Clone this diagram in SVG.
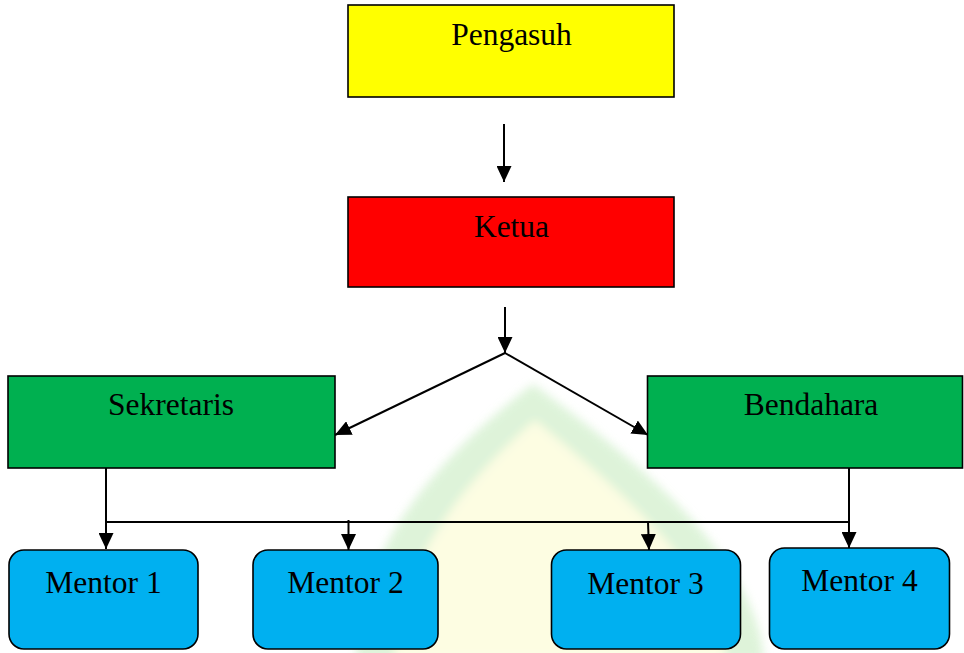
<svg xmlns="http://www.w3.org/2000/svg" width="964" height="653" viewBox="0 0 964 653">
  <defs>
    <marker id="ah" markerUnits="userSpaceOnUse" markerWidth="17" markerHeight="15" refX="16" refY="7.5" orient="auto">
      <path d="M0,0 L16,7.5 L0,15 z" fill="#000"/>
    </marker>
    <filter id="soft" x="-10%" y="-10%" width="120%" height="120%">
      <feGaussianBlur stdDeviation="5"/>
    </filter>
    <style>
      .box { stroke: #000; stroke-width: 1.6; }
      .lbl { font-family: "Liberation Serif", "Times New Roman", serif; font-size: 31.5px; fill: #000; text-anchor: middle; }
      .con { stroke: #000; stroke-width: 2; fill: none; }
      .arr { marker-end: url(#ah); }
    </style>
  </defs>
  <rect width="964" height="653" fill="#ffffff"/>
  <g id="watermark" filter="url(#soft)" opacity="0.8">
    <path d="M356 660 C 358 560, 420 470, 533 384 C 650 470, 756 560, 764 660 Z" fill="#d6f1d0"/>
    <path d="M394 660 C 398 572, 452 492, 535 420 C 622 492, 722 576, 726 660 Z" fill="#fdfddc"/>
  </g>
  <g id="connectors">
    <line class="con arr" x1="504" y1="124" x2="504" y2="182"/>
    <line class="con arr" x1="505" y1="307" x2="505" y2="353"/>
    <line class="con arr" x1="505" y1="353" x2="335" y2="435"/>
    <line class="con arr" x1="505" y1="353" x2="648" y2="435"/>
    <line class="con" x1="106" y1="522" x2="849" y2="522"/>
    <line class="con arr" x1="106" y1="468" x2="106" y2="549"/>
    <line class="con arr" x1="849" y1="468" x2="849" y2="548"/>
    <line class="con arr" x1="348.5" y1="520" x2="348.5" y2="550"/>
    <line class="con arr" x1="648" y1="522" x2="649" y2="550"/>
  </g>
  <g id="pengasuh">
    <rect class="box" x="348" y="5" width="326" height="92" fill="#ffff00"/>
    <text class="lbl" x="511.5" y="45">Pengasuh</text>
  </g>
  <g id="ketua">
    <rect class="box" x="348" y="197" width="326" height="90" fill="#ff0000"/>
    <text class="lbl" x="511.5" y="237">Ketua</text>
  </g>
  <g id="sekretaris">
    <rect class="box" x="8" y="376" width="327" height="92" fill="#00b050"/>
    <text class="lbl" x="171" y="415">Sekretaris</text>
  </g>
  <g id="bendahara">
    <rect class="box" x="647.5" y="376" width="315" height="92" fill="#00b050"/>
    <text class="lbl" x="811" y="415">Bendahara</text>
  </g>
  <g id="mentor1">
    <rect class="box" x="9" y="550" width="189" height="99" rx="15" fill="#00b0f0"/>
    <text class="lbl" x="103.5" y="593">Mentor 1</text>
  </g>
  <g id="mentor2">
    <rect class="box" x="253" y="550" width="185" height="99" rx="15" fill="#00b0f0"/>
    <text class="lbl" x="345.5" y="593">Mentor 2</text>
  </g>
  <g id="mentor3">
    <rect class="box" x="551.5" y="550" width="189" height="99" rx="15" fill="#00b0f0"/>
    <text class="lbl" x="645.5" y="594">Mentor 3</text>
  </g>
  <g id="mentor4">
    <rect class="box" x="769.5" y="548" width="180" height="101" rx="15" fill="#00b0f0"/>
    <text class="lbl" x="859.5" y="591">Mentor 4</text>
  </g>
</svg>
